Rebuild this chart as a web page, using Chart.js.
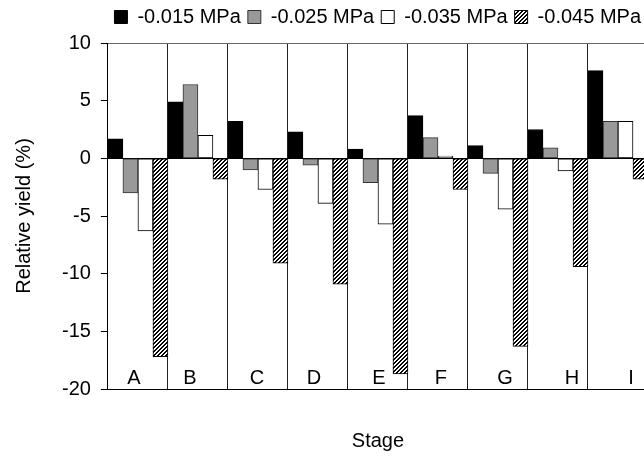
<!DOCTYPE html>
<html>
<head>
<meta charset="utf-8">
<script src="https://cdn.jsdelivr.net/npm/chart.js@4/dist/chart.umd.min.js"></script>
<style>
  html, body { margin: 0; padding: 0; overflow: hidden; background: #fff; }
  #wrap { width: 660px; height: 457px; }
</style>
</head>
<body>
<div id="wrap"><canvas id="chart" width="660" height="457"></canvas></div>
<script>
const stages = ['A', 'B', 'C', 'D', 'E', 'F', 'G', 'H', 'I'];
const seriesNames = ['-0.015 MPa', '-0.025 MPa', '-0.035 MPa', '-0.045 MPa'];
const mpa015 = [1.7, 4.9, 3.2, 2.3, 0.8, 3.7, 1.1, 2.5, 7.6];
const mpa025 = [-3.0, 6.4, -1.0, -0.6, -2.1, 1.8, -1.3, 0.9, 3.2];
const mpa035 = [-6.3, 2.0, -2.7, -3.9, -5.7, 0.2, -4.4, -1.1, 3.2];
const mpa045 = [-17.2, -1.8, -9.1, -10.9, -18.7, -2.7, -16.3, -9.4, -1.8];
const yTicks = [-20, -15, -10, -5, 0, 5, 10];

// stage letters sit a little off-centre in their columns
const stageNudge = [-4, -8, -1, -4, 1, 3, 7, 14, 13];

const FONT = "'Liberation Sans', Arial, sans-serif";

// crisp "/" diagonal stripes, 2px black every 4px
function hatch() {
  const c = document.createElement('canvas');
  c.width = 4; c.height = 4;
  const g = c.getContext('2d');
  g.fillStyle = '#fff';
  g.fillRect(0, 0, 4, 4);
  g.fillStyle = '#000';
  for (let y = 0; y < 4; y++) {
    for (let x = 0; x < 4; x++) {
      if ((x + y) % 4 < 2) g.fillRect(x, y, 1, 1);
    }
  }
  return g.createPattern(c, 'repeat');
}

// a bit more room between the legend row and the plot
const legendGap = {
  id: 'legendGap',
  beforeInit(chart) {
    const fit = chart.legend.fit;
    chart.legend.fit = function () {
      fit.call(this);
      this.height += 6;
    };
  }
};

const stageLabels = {
  id: 'stageLabels',
  afterDatasetsDraw(chart) {
    const { ctx, chartArea, scales } = chart;
    ctx.save();
    ctx.font = '20px ' + FONT;
    ctx.fillStyle = '#000';
    ctx.textAlign = 'center';
    ctx.textBaseline = 'middle';
    stages.forEach((s, i) => {
      ctx.fillText(s, scales.x.getPixelForValue(i) + stageNudge[i], chartArea.bottom - 11);
    });
    ctx.restore();
  }
};

const fills = ['#000', '#999', '#fff', hatch()];
const edges = ['#000', '#333', '#000', '#000'];
const values = [mpa015, mpa025, mpa035, mpa045];

new Chart(document.getElementById('chart'), {
  type: 'bar',
  data: {
    labels: stages,
    datasets: seriesNames.map((name, i) => ({
      label: name,
      data: values[i],
      backgroundColor: fills[i],
      borderColor: edges[i],
      borderWidth: 1,
      borderSkipped: false,
      categoryPercentage: 1,
      barPercentage: 1
    }))
  },
  options: {
    responsive: false,
    animation: false,
    layout: { padding: { top: 0, right: 12, bottom: 0, left: 0 } },
    plugins: {
      legend: {
        position: 'top',
        align: 'end',
        labels: {
          boxWidth: 13,
          boxHeight: 13,
          padding: 7,
          color: '#000',
          font: { family: FONT, size: 20 }
        }
      },
      tooltip: { enabled: false }
    },
    scales: {
      x: {
        offset: true,
        grid: { offset: true, color: '#222', lineWidth: 1, drawTicks: false },
        border: { display: true, color: '#000', width: 1 },
        ticks: { display: false },
        title: {
          display: true,
          text: 'Stage',
          color: '#000',
          font: { family: FONT, size: 20 },
          padding: { top: 40, bottom: 4 }
        }
      },
      y: {
        min: -20,
        max: 10,
        afterBuildTicks: (scale) => { scale.ticks = yTicks.map(v => ({ value: v })); },
        grid: {
          color: (c) => c.tick && c.tick.value === 0 ? '#000' : (c.tick && c.tick.value === 10 ? '#666' : 'transparent'),
          tickColor: '#000',
          tickLength: 7
        },
        border: { display: true, color: '#000', width: 1 },
        ticks: {
          color: '#000',
          padding: 10,
          font: { family: FONT, size: 20 }
        },
        title: {
          display: true,
          text: 'Relative yield (%)',
          color: '#000',
          font: { family: FONT, size: 20 },
          padding: { top: 12, bottom: 16 }
        }
      }
    }
  },
  plugins: [legendGap, stageLabels]
});
</script>
</body>
</html>
